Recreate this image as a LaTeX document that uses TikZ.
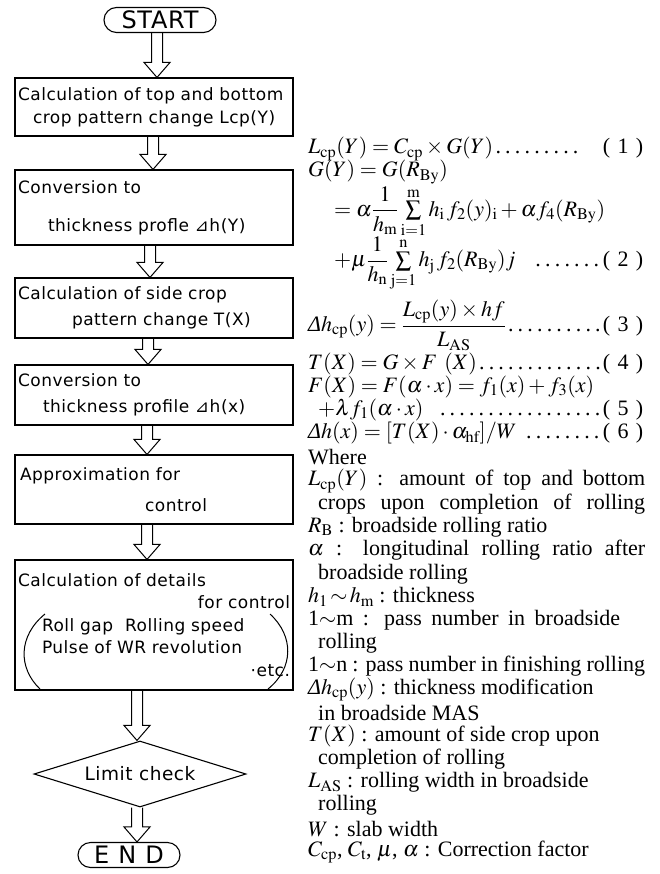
\documentclass[tikz,border=0pt]{standalone}
\usepackage{mathptmx}
\usepackage{fontspec}
\setmainfont{Liberation Serif}
\setsansfont[LetterSpace=3]{DejaVu Sans}
\usetikzlibrary{shapes.geometric,shapes.misc,calc}

\newcommand{\Dl}{\mbox{\itshape Δ}}
\newcommand{\jline}[2][337pt]{\makebox[#1][s]{#2}}

\tikzset{
  flowbox/.style={draw, line width=1.1pt, text width=272pt, align=left,
    inner xsep=3pt, inner ysep=0pt, minimum height=60pt,
    font=\sffamily\fontsize{17}{26}\selectfont},
  termbox/.style={draw, line width=1.1pt, rounded rectangle, inner sep=0pt,
    minimum height=25pt, font=\sffamily\fontsize{24}{24}\selectfont},
  eqline/.style={anchor=west, inner sep=0pt, font=\fontsize{22}{24}\selectfont},
  holarrow/.style={draw, line width=1pt, to path={
    let \p1=(\tikztostart), \p2=(\tikztotarget) in
    ({\x1-5.5pt},{\y1}) -- ({\x1-5.5pt},{\y2+15pt}) -- ({\x1-13pt},{\y2+15pt})
    -- (\x1,\y2) -- ({\x1+13pt},{\y2+15pt}) -- ({\x1+5.5pt},{\y2+15pt})
    -- ({\x1+5.5pt},{\y1})}}
}

\begin{document}
\begin{tikzpicture}[x=1pt, y=-1pt]
    \useasboundingbox (0,0) rectangle (659,874);

    % flow chart
    \node[termbox, minimum width=112pt] at (160,20) (start) {START};
    \node[flowbox, minimum height=58pt, font=\sffamily\fontsize{17}{23}\selectfont]
      at (154,107) (box1)
      {Calculation of top and bottom\\\hspace*{15pt}crop pattern change Lcp(Y)};
    \node[flowbox, minimum height=75pt, font=\sffamily\fontsize{17}{38}\selectfont]
      at (154,207.5) (box2)
      {Conversion to\\\hspace*{30pt}thickness profle ⊿h(Y)};
    \node[flowbox] at (154,308) (box3)
      {Calculation of side crop\\\hspace*{54pt}pattern change T(X)};
    \node[flowbox] at (154,395) (box4)
      {Conversion to\\\hspace*{25pt}thickness profile ⊿h(x)};
    \node[flowbox, minimum height=69pt, font=\sffamily\fontsize{17}{31}\selectfont]
      at (154,489.5) (box5)
      {\hspace*{2pt}Approximation for\\\hspace*{127pt}control};
    \node[flowbox, minimum height=130pt, font=\sffamily\fontsize{17}{22.5}\selectfont]
      at (154,625) (box6)
      {Calculation of details\\\hspace*{\fill}for control\hspace*{2pt}\\
       \hspace*{24pt}Roll gap\hspace{12pt}Rolling speed\\
       \hspace*{24pt}Pulse of WR revolution\\\hspace*{\fill}·etc.\hspace*{8pt}};
    \node[draw, diamond, line width=1.1pt, aspect=3.2, inner sep=0pt,
      minimum width=212pt, minimum height=66pt,
      font=\sffamily\fontsize{18.5}{20}\selectfont] at (140,774) (check) {Limit check};
    \node[termbox, minimum width=102pt] at (129,855) (end) {E\hspace{9pt}N\hspace{9pt}D};

    % brackets round the details
    \draw[line width=1pt] (45,614) .. controls (18,636) and (18,668) .. (40,689);
    \draw[line width=1pt] (270,614) .. controls (294,636) and (294,668) .. (268,689);

    % connectors
    \coordinate (ar0) at (157,0);
    \coordinate (ar1) at (153,0);
    \coordinate (ar2) at (150,0);
    \coordinate (ar3) at (148,0);
    \coordinate (ar4) at (147,0);
    \coordinate (ar5) at (147,0);
    \coordinate (ar6) at (137,0);
    \path[holarrow] (start.south -| ar0) to (box1.north -| ar0);
    \path[holarrow] (box1.south -| ar1) to (box2.north -| ar1);
    \path[holarrow] (box2.south -| ar2) to (box3.north -| ar2);
    \path[holarrow] (box3.south -| ar3) to (box4.north -| ar3);
    \path[holarrow] (box4.south -| ar4) to (box5.north -| ar4);
    \path[holarrow] (box5.south -| ar5) to (box6.north -| ar5);
    \path[holarrow] (box6.south -| ar6) to (check.north -| ar6);
    \path[holarrow] (check.south -| ar6) to (end.north -| ar6);

    % equations
    \node[eqline, text width=335pt] at (308,149) (eq1)
      {$L_{\mathrm{cp}}(Y)=C_{\mathrm{cp}}\times G(Y)$\dotfill\quad( 1 )};
    \node[eqline] at (308,172) (eq2a) {$G(Y)=G(R_{\mathrm{By}})$};
    \node[eqline] at (334,212) (eq2b)
      {$=\alpha\displaystyle\frac{1}{h_{\mathrm m}}\textstyle\sum\limits_{\mathrm{i=1}}^{\mathrm m}
       h_{\mathrm i}\,f_2(y)_{\mathrm i}+\alpha f_4(R_{\mathrm{By}})$};
    \node[eqline, text width=309pt] at (334,264) (eq2c)
      {$+\mu\displaystyle\frac{1}{h_{\mathrm n}}\textstyle\sum\limits_{\mathrm{j=1}}^{\mathrm n}
       h_{\mathrm j}\,f_2(R_{\mathrm{By}})j$\hspace{16pt}\dotfill( 2 )};
    \node[eqline, text width=335pt] at (308,325) (eq3)
      {$\displaystyle\Dl h_{\mathrm{cp}}(y)=\frac{L_{\mathrm{cp}}(y)\times hf}{L_{\mathrm{AS}}}$\dotfill( 3 )};
    \node[eqline, text width=335pt] at (308,364) (eq4)
      {$T(X)=G\times F\ (X)$\dotfill( 4 )};
    \node[eqline] at (308,387) (eq5a)
      {$F(X)=F(\alpha\cdot x)=f_1(x)+f_3(x)$};
    \node[eqline, text width=325pt] at (318,410) (eq5b)
      {$+\lambda f_1(\alpha\cdot x)$\hspace{14pt}\dotfill( 5 )};
    \node[eqline, text width=335pt] at (308,433) (eq6)
      {$\Dl h(x)=[T(X)\cdot\alpha_{\mathrm{hf}}]/W$\hspace{6pt}\dotfill( 6 )};

    % nomenclature
    \node[eqline] at (308,457) (where) {Where};
    \node[eqline] at (308,481) (def1) {\jline{$L_{\mathrm{cp}}(Y)$ : amount of top and bottom}};
    \node[eqline] at (318,504.2) (def1b) {\jline[327pt]{crops upon completion of rolling}};
    \node[eqline] at (308,527.4) (def2) {$R_{\mathrm B}$ : broadside rolling ratio};
    \node[eqline] at (308,550.6) (def3) {\jline{$\alpha$ : longitudinal rolling ratio after}};
    \node[eqline] at (318,573.8) (def3b) {broadside rolling};
    \node[eqline] at (308,597) (def4) {$h_1\!\sim\! h_{\mathrm m}$ : thickness};
    \node[eqline] at (308,620.1) (def5) {\jline[312pt]{1$\sim$m : pass number in broadside}};
    \node[eqline] at (318,643.3) (def5b) {rolling};
    \node[eqline] at (308,666.5) (def6) {\jline{1$\sim$n : pass number in finishing rolling}};
    \node[eqline] at (308,689.7) (def7) {$\Dl h_{\mathrm{cp}}(y)$ : thickness modification};
    \node[eqline] at (318,712.9) (def7b) {in broadside MAS};
    \node[eqline] at (308,736.1) (def8) {$T(X)$ : amount of side crop upon};
    \node[eqline] at (318,759.3) (def8b) {completion of rolling};
    \node[eqline] at (308,782.5) (def9) {$L_{\mathrm{AS}}$ : rolling width in broadside};
    \node[eqline] at (318,805.7) (def9b) {rolling};
    \node[eqline] at (308,828.9) (def10) {$W$ : slab width};
    \node[eqline] at (308,852) (def11) {$C_{\mathrm{cp}}$, $C_{\mathrm t}$, $\mu$, $\alpha$ : Correction factor};
\end{tikzpicture}
\end{document}
